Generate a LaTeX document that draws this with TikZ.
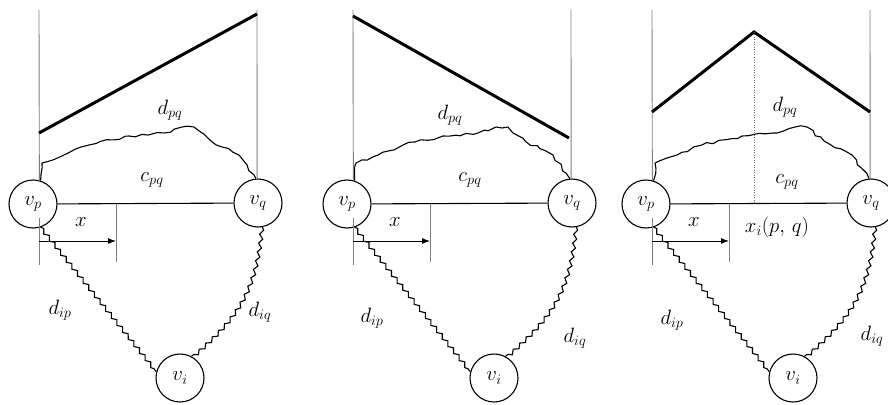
\documentclass[tikz,border=0pt]{standalone}
\usetikzlibrary{arrows.meta,decorations.pathmorphing}

\begin{document}
\begin{tikzpicture}[x=1pt, y=-1pt,
    font=\fontsize{20}{22}\selectfont,
    vertex/.style={draw, circle, fill=white, minimum size=48pt, inner sep=0pt, line width=1.1pt},
    guide/.style={black!50, line width=0.9pt},
    cost/.style={line width=3pt},
    route/.style={line width=1.1pt, line join=round, decorate,
      decoration={random steps, segment length=6pt, amplitude=1.6pt}},
    wiggle/.style={line width=1.1pt, decorate,
      decoration={snake, segment length=9pt, amplitude=1.8pt}},
    arrow/.style={-{Latex[length=8pt,width=6pt]}, line width=1pt}
  ]
    \useasboundingbox (0,0) rectangle (888,404);
    \pgfmathsetseed{11}

    % the same graph in each panel, \L is the left guide line
    \foreach \i/\L in {1/39, 2/353, 3/652}{
      \node[vertex] (vp\i) at (\L-6,204) {$v_p$};
      \node[vertex] (vq\i) at (\L+219,203) {$v_q$};
      \node[vertex] (vi\i) at (\L+141,378) {$v_i$};
      \node (x\i) at (\L+42,222) {$x$};
      \coordinate (lt\i) at (\L,10);
      \coordinate (lm\i) at (\L,218);
      \coordinate (lb\i) at (\L,265);
      \coordinate (rt\i) at (\L+218,10);
      \coordinate (xm\i) at (\L+77,203);
      \coordinate (xb\i) at (\L+77,262);
      \coordinate (as\i) at (\L,241);
      \coordinate (ae\i) at (\L+77,241);

      \draw[guide] (lt\i) -- (vp\i.75);
      \draw[guide] (lm\i) -- (lb\i);
      \draw[guide] (rt\i) -- (vq\i.92);
      \draw[guide] (xm\i) -- (xb\i);
      \draw[line width=1.1pt] (vp\i) -- (vq\i);
      \draw[arrow] (as\i) -- (ae\i);

      \draw[route] (vp\i.72) -- (\L+3,163) -- (\L+25,155) -- (\L+50,145)
        -- (\L+90,136) -- (\L+125,133) -- (\L+143,127) -- (\L+155,127)
        -- (\L+172,141) -- (\L+200,155) -- (vq\i.95);
      \draw[wiggle] (vp\i.-72) -- (vi\i.165);
      \draw[wiggle] (vq\i.-80) .. controls (\L+217,290) and (\L+200,315) .. (vi\i.62);
    }

    % cost along the edge
    \coordinate (a1) at (39,133);
    \coordinate (b1) at (257,14);
    \coordinate (a2) at (353,16);
    \coordinate (b2) at (569,138);
    \coordinate (a3) at (652,112);
    \coordinate (top3) at (754,32);
    \coordinate (mid3) at (754,203);
    \coordinate (b3) at (870,112);
    \draw[cost] (a1) -- (b1);
    \draw[cost] (a2) -- (b2);
    \draw[cost, line join=miter] (a3) -- (top3) -- (b3);
    \draw[black!60, line width=1pt, dash pattern=on 1pt off 1.5pt] (top3) -- (mid3);

    % labels
    \node (dpq1) at (170,110) {$d_{pq}$};
    \node (cpq1) at (152,180) {$c_{pq}$};
    \node (dip1) at (60,310) {$d_{ip}$};
    \node (diq1) at (260,312) {$d_{iq}$};
    \node (dpq2) at (450,115) {$d_{pq}$};
    \node (cpq2) at (470,180) {$c_{pq}$};
    \node (dip2) at (372,318) {$d_{ip}$};
    \node (diq2) at (575,338) {$d_{iq}$};
    \node (dpq3) at (785,107) {$d_{pq}$};
    \node (cpq3) at (787,182) {$c_{pq}$};
    \node (xi3) at (777,227) {$x_i(p,\,q)$};
    \node (dip3) at (672,320) {$d_{ip}$};
    \node (diq3) at (872,336) {$d_{iq}$};
\end{tikzpicture}
\end{document}
